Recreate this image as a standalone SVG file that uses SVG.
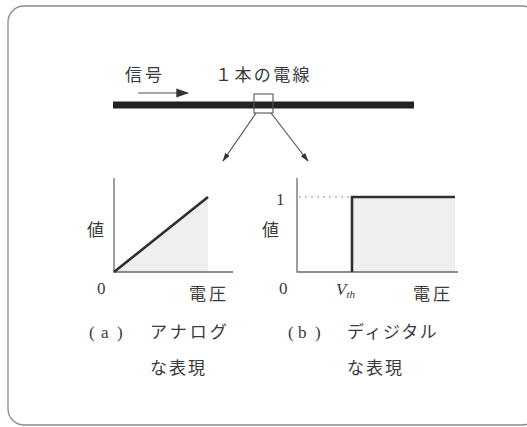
<svg xmlns="http://www.w3.org/2000/svg" width="527" height="427" viewBox="0 0 527 427">
<defs>
<style>
.t{font-family:"Noto Sans CJK JP","Noto Sans",sans-serif;font-size:17px;fill:#3a3a3a}
.l{font-family:"Liberation Serif",serif;font-size:17px;fill:#3a3a3a}
.axis{stroke:#6a6a6a;stroke-width:1.3;fill:none}
.plot{stroke:#2f2f2f;stroke-width:2.6;fill:none}
.shade{fill:#efefef;stroke:none}
.conn{stroke:#555;stroke-width:1.2;fill:none}
</style>
<marker id="ah" viewBox="0 0 10 10" refX="9" refY="5" markerWidth="9" markerHeight="9" orient="auto" markerUnits="userSpaceOnUse">
<path d="M0,2 L10,5 L0,8 Z" fill="#333"/>
</marker>
<marker id="ah2" viewBox="0 0 10 10" refX="9" refY="5" markerWidth="13" markerHeight="13" orient="auto" markerUnits="userSpaceOnUse">
<path d="M0,1.5 L10,5 L0,8.5 Z" fill="#333"/>
</marker>
</defs>
<rect width="527" height="427" fill="#fff"/>
<rect x="8" y="6" width="530" height="419" rx="16" fill="none" stroke="#8a8a8a" stroke-width="1.3"/>

<g id="wire">
<line x1="113" y1="105" x2="414" y2="105" stroke="#222" stroke-width="7"/>
<rect x="254" y="94" width="19" height="19" fill="none" stroke="#555" stroke-width="1.1"/>
<text class="t" x="125" y="81" letter-spacing="3">信号</text>
<text class="t" x="215" y="81" letter-spacing="2.4">１本の電線</text>
</g>

<g id="connectors">
<line class="conn" x1="138" y1="93" x2="188" y2="93" marker-end="url(#ah2)"/>
<line class="conn" x1="256" y1="113" x2="223" y2="161" marker-end="url(#ah)"/>
<line class="conn" x1="271" y1="113" x2="308" y2="161" marker-end="url(#ah)"/>
</g>

<g id="analog">
<polygon class="shade" points="114,272 208,197 208,272"/>
<polyline class="axis" points="114,178 114,272 233,272"/>
<line class="plot" x1="114" y1="272" x2="208" y2="197"/>
<text class="t" x="87" y="236">値</text>
<text class="l" x="97" y="294">0</text>
<text class="t" x="189" y="300" letter-spacing="3">電圧</text>
<text class="l" x="89 101 117" y="338" font-size="19">(a)</text>
<text class="t" x="150" y="338" letter-spacing="3">アナログ</text>
<text class="t" x="150" y="374" letter-spacing="2">な表現</text>
</g>

<g id="digital">
<rect class="shade" x="352" y="197" width="103" height="75"/>
<polyline class="axis" points="297,178 297,272 458,272"/>
<line x1="299" y1="197" x2="350" y2="197" stroke="#888" stroke-width="1.2" stroke-dasharray="2,4"/>
<polyline class="plot" points="352,272 352,197 455,197"/>
<text class="l" x="276" y="205">1</text>
<text class="t" x="262" y="236">値</text>
<text class="l" x="279" y="294">0</text>
<text class="l" x="336" y="295" font-style="italic">V<tspan font-size="11" dy="3">th</tspan></text>
<text class="t" x="413" y="300" letter-spacing="3">電圧</text>
<text class="l" x="288 298 315" y="338" font-size="19">(b)</text>
<text class="t" x="347" y="338" letter-spacing="1.6">ディジタル</text>
<text class="t" x="347" y="374" letter-spacing="2">な表現</text>
</g>
</svg>
